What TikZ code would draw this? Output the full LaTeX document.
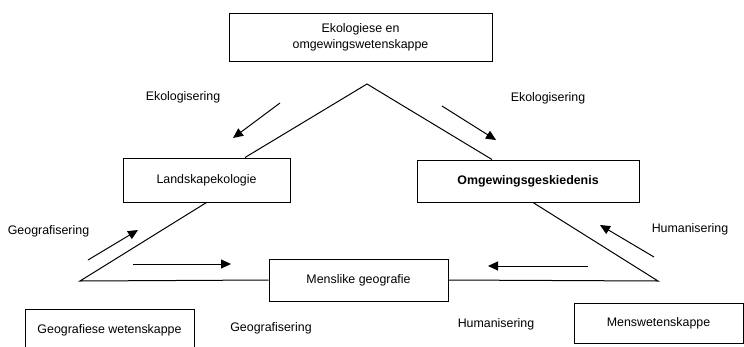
\documentclass[tikz,border=0pt]{standalone}
\usepackage{fontspec}
\setmainfont{Liberation Sans}
\usepackage{tikz}
\usetikzlibrary{shapes}
\usetikzlibrary{arrows.meta}
\tikzset{
  main node/.style={rectangle,draw,line width=1pt,inner sep=0pt,font=\fontsize{12.4}{16}\selectfont},
  label node/.style={font=\fontsize{12.4}{16}\selectfont}
}

\begin{document}
\begin{tikzpicture}[x=1pt,y=-1pt,->,>={Triangle[length=10pt,width=9pt]},line width=1pt]
  \useasboundingbox (0,0) rectangle (744,346);
  \node[main node,minimum width=263pt,minimum height=48pt,align=center] (1) at (360.5,37) {Ekologiese en\\omgewingswetenskappe};
  \node[main node,minimum width=167pt,minimum height=44pt] (2) at (206.5,180) {Landskapekologie};
  \node[main node,minimum width=222pt,minimum height=42pt] (3) at (528,181) {\textbf{Omgewingsgeskiedenis}};
  \node[main node,minimum width=179pt,minimum height=42pt] (4) at (358.5,280) {Menslike geografie};
  \node[main node,minimum width=169pt,minimum height=42pt] (5) at (109.5,330) {Geografiese wetenskappe};
  \node[main node,minimum width=169pt,minimum height=40pt] (6) at (658.5,323) {Menswetenskappe};

  \node[label node] (7) at (183,97) {Ekologisering};
  \node[label node] (8) at (548,98) {Ekologisering};
  \node[label node] (9) at (48.5,231) {Geografisering};
  \node[label node] (10) at (690,229) {Humanisering};
  \node[label node] (11) at (271,328) {Geografisering};
  \node[label node] (12) at (496,324) {Humanisering};

  \coordinate (top) at (367,84);
  \coordinate (left) at (80,281);
  \coordinate (right) at (658,281);
  \draw[-] ([xshift=38.5pt]2.north) -- (top) -- ([xshift=-36pt]3.north);
  \draw[-] (2.south) -- (left) -- (4.west);
  \draw[-] ([xshift=5pt]3.south) -- (right) -- (4.east);

  \coordinate (e1) at (280,103);
  \coordinate (e2) at (233,138);
  \coordinate (e3) at (442,106);
  \coordinate (e4) at (496,140);
  \coordinate (g1) at (88,260);
  \coordinate (g2) at (138,230);
  \coordinate (g3) at (133,264);
  \coordinate (g4) at (231,264);
  \coordinate (h1) at (654,257);
  \coordinate (h2) at (600,225);
  \coordinate (h3) at (588,266);
  \coordinate (h4) at (488,266);
  \draw (e1) -- (e2);
  \draw (e3) -- (e4);
  \draw (g1) -- (g2);
  \draw (g3) -- (g4);
  \draw (h1) -- (h2);
  \draw (h3) -- (h4);
\end{tikzpicture}
\end{document}
